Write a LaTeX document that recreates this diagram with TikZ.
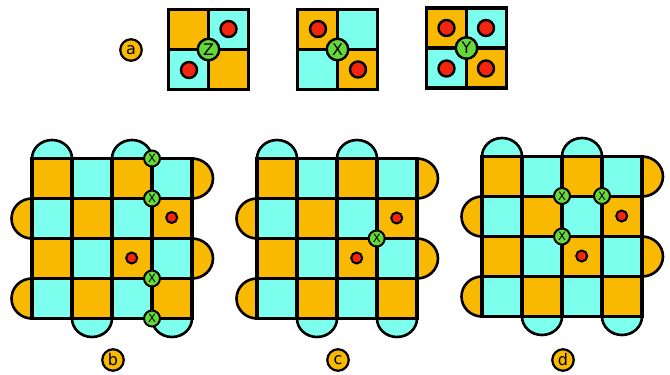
\documentclass[tikz,border=0pt]{standalone}
\usepackage{fontspec}
\setmainfont{DejaVu Sans}
\usetikzlibrary{positioning, calc}
\definecolor{mOrange}{HTML}{F8B900}
\definecolor{mCyan}{HTML}{7CFFEC}
\definecolor{mGreen}{HTML}{66D93A}
\definecolor{mRed}{HTML}{F3250F}
% one 4x4 board with its half-round caps, top left corner at (#1,#2)
\newcommand{\surfboard}[2]{%
  \begin{scope}[shift={(#1,#2)}]
    \foreach \xc in {0,80}   \draw[halfcap, fill=mCyan] (\xc,0) arc[start angle=180, end angle=0, x radius=20pt, y radius=18.5pt];
    \foreach \xc in {40,120} \draw[halfcap, fill=mCyan] (\xc,160) arc[start angle=180, end angle=360, x radius=20pt, y radius=18.5pt];
    \foreach \yc in {0,80}   \draw[halfcap, fill=mOrange] (160,\yc) arc[start angle=90, end angle=-90, x radius=21pt, y radius=20pt];
    \foreach \yc in {40,120} \draw[halfcap, fill=mOrange] (0,\yc) arc[start angle=90, end angle=270, x radius=20.5pt, y radius=20pt];
    \foreach \cc in {0,1,2,3}
      \foreach \rc in {0,1,2,3} {
        \pgfmathtruncatemacro{\chk}{mod(\cc+\rc,2)}
        \ifnum\chk=0 \fill[mOrange] (40*\cc,40*\rc) rectangle ++(40,40);
        \else \fill[mCyan] (40*\cc,40*\rc) rectangle ++(40,40); \fi
      }
    \foreach \ii in {1,2,3} {
      \draw[gridline] (40*\ii,0) -- (40*\ii,160);
      \draw[gridline] (0,40*\ii) -- (160,40*\ii);
    }
    \draw[gridline] (0,0) rectangle (160,160);
  \end{scope}}
% small 2x2 tile, top left corner at (#1,#2)
\newcommand{\smalltile}[2]{%
  \begin{scope}[shift={(#1,#2)}]
    \fill[mOrange] (0,0) rectangle (40,40) (40,40) rectangle (80,80);
    \fill[mCyan] (40,0) rectangle (80,40) (0,40) rectangle (40,80);
    \draw[gridline] (40,0) -- (40,80) (0,40) -- (80,40);
    \draw[tileframe] (0,0) rectangle (80,80);
  \end{scope}}
\begin{document}
\begin{tikzpicture}[x=1pt, y=-1pt,
    halfcap/.style={draw=black, line width=2.6pt},
    gridline/.style={draw=black, line width=3.1pt},
    tileframe/.style={draw=black, line width=3.4pt},
    tag/.style={circle, draw=black, line width=2.2pt, fill=mOrange, minimum size=21.5pt, inner sep=0pt, font=\fontsize{16}{16}\selectfont},
    gate/.style={circle, draw=black, line width=2.4pt, fill=mGreen, minimum size=21.5pt, inner sep=0pt, font=\fontsize{16}{16}\selectfont},
    xnode/.style={circle, draw=black, line width=2pt, fill=mGreen, minimum size=16pt, inner sep=0pt, font=\fontsize{11.5}{12}\selectfont},
    bigdot/.style={circle, draw=black, line width=2.4pt, fill=mRed, minimum size=16pt, inner sep=0pt},
    smalldot/.style={circle, draw=black, line width=2pt, fill=mRed, minimum size=11pt, inner sep=0pt}]
  \useasboundingbox (0,0) rectangle (670,375);

  % top row
  \smalltile{168.5}{9.5}
  \smalltile{297.5}{9.5}
  \smalltile{426.5}{8}
  \node[tag] (tagA) at (131,50) {a};
  \node[gate] (gZ) at (208.5,49.5) {Z};
  \node[gate] (gX) at (337.5,49.5) {X};
  \node[gate] (gY) at (466.5,48) {Y};
  \node[bigdot] (za) at (228.5,29) {};
  \node[bigdot] (zb) at (189,70) {};
  \node[bigdot] (xa) at (318,29) {};
  \node[bigdot] (xb) at (358,69.5) {};
  \foreach \i/\u/\v in {1/446.5/28, 2/486/28, 3/446.5/68.5, 4/486/68.5}
    \node[bigdot] (y\i) at (\u,\v) {};

  % the boards
  \surfboard{32}{158.5}
  \surfboard{257}{158.5}
  \surfboard{482}{156.5}

  % board b
  \node[smalldot] (bA) at (171.7,217.5) {};
  \node[smalldot] (bB) at (131.7,258) {};
  \foreach \i/\v in {1/158.5, 2/198.5, 3/278.5, 4/318.5}
    \node[xnode] (bx\i) at (152,\v) {X};
  \node[tag] (tagB) at (113,360) {b};

  % board c
  \node[smalldot] (cA) at (396.7,218) {};
  \node[smalldot] (cB) at (356.7,258) {};
  \node[xnode] (cx1) at (376.7,238.5) {X};
  \node[tag] (tagC) at (338,360) {c};

  % board d
  \node[smalldot] (dA) at (621.7,216) {};
  \node[smalldot] (dB) at (581.7,256) {};
  \foreach \i/\u/\v in {1/562/196, 2/602/196, 3/562/236.5}
    \node[xnode] (dx\i) at (\u,\v) {X};
  \node[tag] (tagD) at (563,360) {d};
\end{tikzpicture}
\end{document}
